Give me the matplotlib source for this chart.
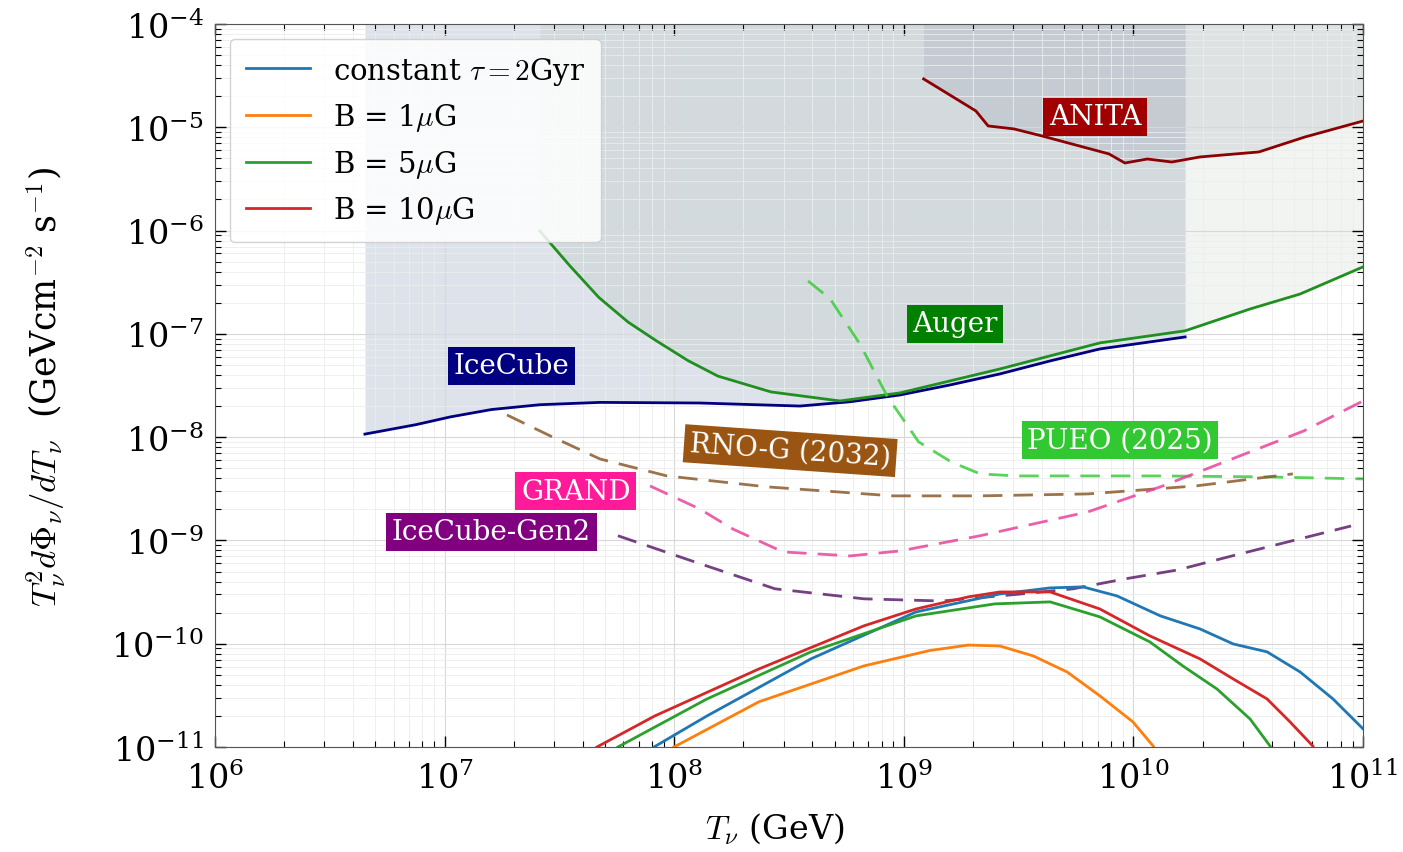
import matplotlib
matplotlib.use("Agg")
import matplotlib.pyplot as plt
import matplotlib.ticker as mticker
import numpy as np

plt.rcParams["font.family"] = "serif"
plt.rcParams["font.serif"] = ["DejaVu Serif"]
plt.rcParams["mathtext.fontset"] = "cm"

# ── data ────────────────────────────────────────────────────────────────────
icecube_x = [4.50e6, 7.5e6, 1.06e7, 1.6e7, 2.60e7, 4.75e7, 1.29e8, 3.53e8,
             5.83e8, 9.62e8, 1.59e9, 2.62e9, 4.34e9, 7.14e9, 1.68e10]
icecube_y = [1.07e-8, 1.32e-8, 1.57e-8, 1.85e-8, 2.06e-8, 2.17e-8, 2.14e-8,
             2.00e-8, 2.20e-8, 2.56e-8, 3.20e-8, 4.09e-8, 5.47e-8, 7.14e-8,
             9.33e-8]

auger_x = [2.60e7, 3.5e7, 4.70e7, 6.3e7, 8.34e7, 1.15e8, 1.55e8, 2.64e8,
           5.27e8, 9.62e8, 2.62e9, 7.14e9, 1.68e10, 3.22e10, 5.32e10, 1e11]
auger_y = [9.9e-7, 4.6e-7, 2.25e-7, 1.3e-7, 8.6e-8, 5.5e-8, 3.9e-8, 2.74e-8,
           2.24e-8, 2.68e-8, 4.57e-8, 8.17e-8, 1.07e-7, 1.74e-7, 2.43e-7,
           4.45e-7]

anita_x = [1.22e9, 2.06e9, 2.33e9, 3.02e9, 4.00e9, 7.83e9, 9.18e9, 1.15e10,
           1.47e10, 1.95e10, 3.52e10, 5.58e10, 1e11]
anita_y = [2.94e-5, 1.44e-5, 1.03e-5, 9.64e-6, 8.24e-6, 5.52e-6, 4.51e-6,
           4.93e-6, 4.61e-6, 5.16e-6, 5.77e-6, 8.05e-6, 1.15e-5]

pueo_x = [3.83e8, 4.78e8, 6.44e8, 8.45e8, 1.16e9, 1.61e9, 2.15e9, 3.08e9,
          1.31e10, 3.85e10, 1e11]
pueo_y = [3.25e-7, 2.18e-7, 7.98e-8, 2.51e-8, 9.0e-9, 5.75e-9, 4.41e-9,
          4.21e-9, 4.21e-9, 4.12e-9, 3.94e-9]

rnog_x = [1.87e7, 2.88e7, 4.75e7, 9.31e7, 2.54e8, 8.97e8, 2.15e9, 6.34e9,
          1.87e10, 4.95e10]
rnog_y = [1.64e-8, 1.03e-8, 6.15e-9, 4.21e-9, 3.30e-9, 2.70e-9, 2.70e-9,
          2.82e-9, 3.37e-9, 4.41e-9]

grand_x = [7.85e7, 1.29e8, 1.80e8, 2.98e8, 5.83e8, 9.62e8, 2.15e9, 6.34e9,
           1.31e10, 2.69e10, 5.53e10, 1e11]
grand_y = [3.37e-9, 2.02e-9, 1.29e-9, 7.74e-10, 7.08e-10, 7.91e-10, 1.11e-9,
           1.89e-9, 3.30e-9, 6.15e-9, 1.15e-8, 2.24e-8]

gen2_x = [5.69e7, 1.23e8, 2.75e8, 6.71e8, 1.47e9, 3.24e9, 5.46e9, 9.18e9,
          1.56e10, 2.69e10, 8.87e10]
gen2_y = [1.11e-9, 6.19e-10, 3.40e-10, 2.72e-10, 2.59e-10, 3.03e-10,
          3.40e-10, 4.24e-10, 5.18e-10, 7.08e-10, 1.38e-9]

tau_x = [8.17e7, 1.39e8, 3.94e8, 1.13e9, 2.62e9, 4.34e9, 6.03e9, 8.49e9,
         1.31e10, 1.95e10, 2.72e10, 3.82e10, 5.32e10, 7.40e10, 1e11]
tau_y = [1e-11, 2.0e-11, 7.13e-11, 2.03e-10, 3.03e-10, 3.47e-10, 3.55e-10,
         2.90e-10, 1.86e-10, 1.39e-10, 9.95e-11, 8.34e-11, 5.33e-11,
         2.92e-11, 1.50e-11]

b1_x = [9.98e7, 2.34e8, 6.71e8, 1.3e9, 1.91e9, 2.62e9, 3.66e9, 5.14e9,
        7.14e9, 9.95e9, 1.22e10]
b1_y = [1e-11, 2.74e-11, 6.10e-11, 8.6e-11, 9.7e-11, 9.5e-11, 7.62e-11,
        5.33e-11, 3.13e-11, 1.75e-11, 1.02e-11]

b5_x = [5.69e7, 1.39e8, 3.94e8, 1.13e9, 2.49e9, 4.34e9, 7.14e9, 1.18e10,
        1.64e10, 2.31e10, 3.22e10, 3.94e10]
b5_y = [1e-11, 2.92e-11, 8.34e-11, 1.86e-10, 2.43e-10, 2.54e-10, 1.82e-10,
        1.04e-10, 6.10e-11, 3.65e-11, 1.87e-11, 1.02e-11]

b10_x = [4.61e7, 8.24e7, 2.34e8, 6.71e8, 1.13e9, 1.91e9, 2.62e9, 4.34e9,
         7.14e9, 1.18e10, 1.95e10, 2.72e10, 3.82e10, 4.81e10, 6.05e10]
b10_y = [1e-11, 2.0e-11, 5.70e-11, 1.49e-10, 2.17e-10, 2.84e-10, 3.17e-10,
         3.17e-10, 2.17e-10, 1.19e-10, 7.13e-11, 4.56e-11, 2.92e-11,
         1.75e-11, 1.02e-11]

model_labels = [r"constant $\tau = 2$Gyr", r"B = 1$\mu$G", r"B = 5$\mu$G",
                r"B = 10$\mu$G"]

# experiment labels: text, x, y, box colour, rotation
exp_labels = [
    ("IceCube",       1.95e7, 4.9e-8,  "navy",        0),
    ("Auger",         1.67e9, 1.25e-7, "green",       0),
    ("ANITA",         6.8e9,  1.26e-5, "#a00000",     0),
    ("RNO-G (2032)",  3.2e8,  7.4e-9,  "#9a5512",     -4),
    ("PUEO (2025)",   8.75e9, 9.4e-9,  "#32c832",     0),
    ("GRAND",         3.73e7, 3.0e-9,  "#ff1a9a",     0),
    ("IceCube-Gen2",  1.6e7,  1.21e-9, "#800080",     0),
]

# ── figure ──────────────────────────────────────────────────────────────────
fig = plt.figure(figsize=(14.03, 8.53), dpi=100)
ax = fig.add_axes([0.1532, 0.1231, 0.8183, 0.8476])
ax.set_xscale("log")
ax.set_yscale("log")
ax.set_xlim(1e6, 1e11)
ax.set_ylim(1e-11, 1e-4)

top = 1e-4
ax.fill_between(icecube_x, icecube_y, top, color="#5a6e96", alpha=0.2, lw=0)
ax.fill_between(auger_x, auger_y, top, color="#6a8f6a", alpha=0.09, lw=0)
ax.fill_between(anita_x, anita_y, top, color="#606a88", alpha=0.13, lw=0)

ax.plot(icecube_x, icecube_y, color="navy", lw=2)
ax.plot(auger_x, auger_y, color="#1f8f1f", lw=2)
ax.plot(anita_x, anita_y, color="#8b0000", lw=2)

dash = (7, 4)
ax.plot(pueo_x, pueo_y, color="#3ccc3c", lw=2, dashes=dash, alpha=0.85)
ax.plot(rnog_x, rnog_y, color="#8b5a2b", lw=2, dashes=dash, alpha=0.85)
ax.plot(grand_x, grand_y, color="#e8449a", lw=2, dashes=dash, alpha=0.85)
ax.plot(gen2_x, gen2_y, color="#5e1e6e", lw=2, dashes=dash, alpha=0.85)

ax.plot(tau_x, tau_y, color="#1f77b4", lw=2, label=model_labels[0])
ax.plot(b1_x, b1_y, color="#ff7f0e", lw=2, label=model_labels[1])
ax.plot(b5_x, b5_y, color="#2ca02c", lw=2, label=model_labels[2])
ax.plot(b10_x, b10_y, color="#d62728", lw=2, label=model_labels[3])

for text, x, y, c, rot in exp_labels:
    ax.text(x, y, text, fontsize=20, color="white", ha="center", va="center",
            rotation=rot,
            bbox=dict(boxstyle="square,pad=0.2", facecolor=c, edgecolor="none"))

# ticks / grid
for axis in (ax.xaxis, ax.yaxis):
    axis.set_major_locator(mticker.LogLocator(base=10, numticks=20))
    axis.set_minor_locator(mticker.LogLocator(base=10, subs=np.arange(2, 10),
                                              numticks=100))
    axis.set_minor_formatter(mticker.NullFormatter())
ax.tick_params(which="both", direction="in", top=True, right=True)
ax.tick_params(which="major", length=8, width=1, labelsize=24)
ax.tick_params(axis="x", which="major", pad=10)
ax.tick_params(axis="y", which="major", pad=8)
ax.tick_params(which="minor", length=4, width=0.8)
ax.grid(True, which="major", color="#d8d8d8", lw=0.8)
ax.grid(True, which="minor", color="#ececec", lw=0.6)
for s in ax.spines.values():
    s.set_color("#555555")

ax.set_xlabel(r"$T_\nu$ (GeV)", fontsize=24)
ax.set_ylabel(r"$T_\nu^2 d\Phi_\nu/dT_\nu$  (GeVcm$^{-2}$ s$^{-1}$)",
              fontsize=25)
ax.xaxis.set_label_coords(0.488, -0.088)
ax.yaxis.set_label_coords(-0.128, 0.5)

leg = ax.legend(loc="upper left", fontsize=21, handlelength=2.2,
                labelspacing=0.5, borderpad=0.55, framealpha=0.85,
                edgecolor="#cccccc", fancybox=True)

fig.savefig("out.png", dpi=100)
